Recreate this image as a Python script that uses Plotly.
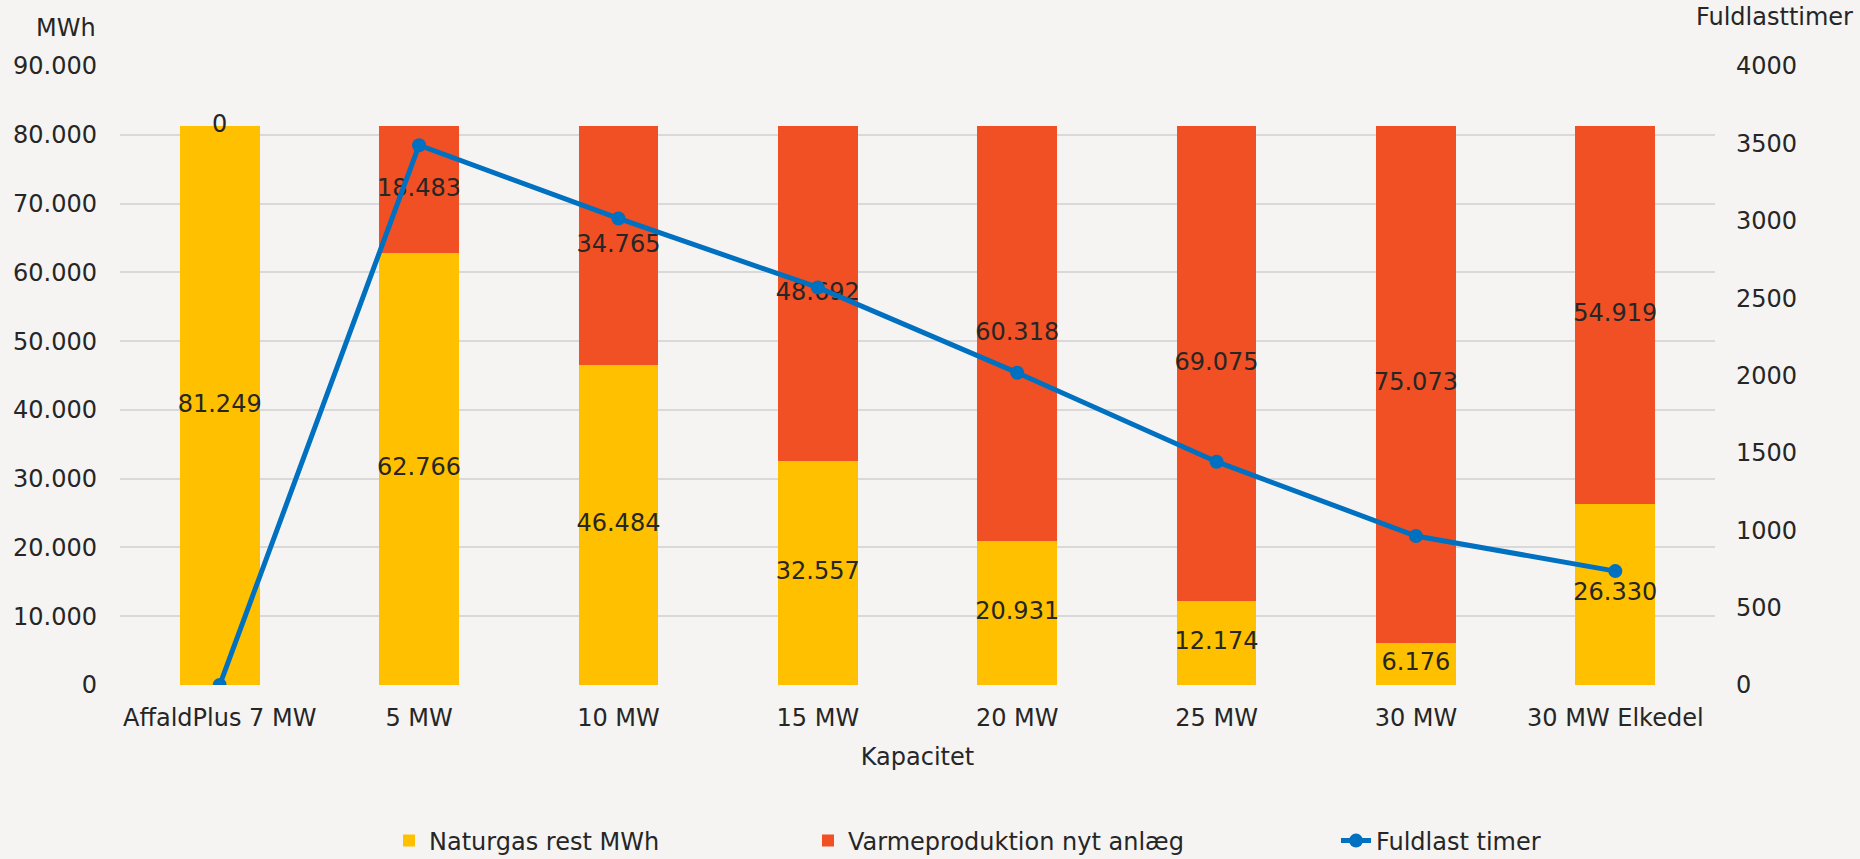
import plotly.graph_objects as go

categories = ["AffaldPlus 7 MW", "5 MW", "10 MW", "15 MW", "20 MW", "25 MW", "30 MW", "30 MW Elkedel"]
naturgas = [81249, 62766, 46484, 32557, 20931, 12174, 6176, 26330]
varme = [0, 18483, 34765, 48692, 60318, 69075, 75073, 54919]
fuldlast = [0, 3488, 3015, 2569, 2018, 1443, 963, 736]

FONT = "DejaVu Sans"
TXT = "#262626"
BG = "#F5F4F2"
FS = 24

def fmt(v):
    return f"{v:,}".replace(",", ".")

fig = go.Figure()
fig.add_trace(go.Bar(x=categories, y=naturgas, name="Naturgas rest MWh",
                     marker=dict(color="#FFC000", line=dict(width=0)), legend="legend"))
fig.add_trace(go.Bar(x=categories, y=varme, name="Varmeproduktion nyt anlæg",
                     marker=dict(color="#F05023", line=dict(width=0)), legend="legend2"))

# data labels at segment centres
mid_n = [v / 2 for v in naturgas]
mid_v = [n + v / 2 for n, v in zip(naturgas, varme)]
fig.add_trace(go.Scatter(x=categories + categories, y=mid_n + mid_v, mode="text",
                         text=[fmt(v) for v in naturgas] + [fmt(v) for v in varme],
                         textfont=dict(family=FONT, size=FS, color=TXT),
                         showlegend=False, hoverinfo="skip"))

fig.add_trace(go.Scatter(x=categories, y=fuldlast, name="Fuldlast timer", yaxis="y2",
                         mode="lines+markers", line=dict(color="#0070C0", width=5),
                         marker=dict(size=14, color="#0070C0"), legend="legend3"))

LEG_Y = (859 - 841) / 859
fig.update_layout(
    width=1860, height=859,
    paper_bgcolor=BG, plot_bgcolor=BG,
    barmode="stack", bargap=0.6,
    margin=dict(l=120, r=145, t=66, b=174, autoexpand=False),
    font=dict(family=FONT, size=FS, color=TXT),
    separators=",.",
    xaxis=dict(showgrid=False, ticks="", showline=False, tickfont=dict(size=FS, color=TXT),
               ticklabelstandoff=16, automargin=False,
               title=dict(text="Kapacitet", font=dict(size=FS, color=TXT), standoff=17)),
    yaxis=dict(range=[0, 90000], dtick=10000, tickformat=",d", showgrid=True,
               gridcolor="#D9D9D9", gridwidth=1.5, zeroline=False, ticks="", automargin=False,
               ticklabelstandoff=22, tickfont=dict(size=FS, color=TXT)),
    yaxis2=dict(range=[0, 4000], dtick=500, overlaying="y", side="right", showgrid=False,
                zeroline=False, ticks="", ticklabelstandoff=20, automargin=False,
                tickfont=dict(size=FS, color=TXT)),
    legend=dict(orientation="h", x=389 / 1860, y=LEG_Y, xref="container", yref="container",
                xanchor="left", yanchor="middle",
                bgcolor="rgba(0,0,0,0)", font=dict(size=FS, color=TXT)),
    legend2=dict(orientation="h", x=808 / 1860, y=LEG_Y, xref="container", yref="container",
                 xanchor="left", yanchor="middle",
                 bgcolor="rgba(0,0,0,0)", font=dict(size=FS, color=TXT)),
    legend3=dict(orientation="h", x=1336 / 1860, y=LEG_Y, xref="container", yref="container",
                 xanchor="left", yanchor="middle",
                 bgcolor="rgba(0,0,0,0)", font=dict(size=FS, color=TXT)),
    annotations=[
        dict(text="MWh", xref="paper", yref="paper", x=(98 - 120) / 1595, y=(685 - 28) / 619,
             xanchor="right", yanchor="middle", showarrow=False, font=dict(size=FS, color=TXT)),
        dict(text="Fuldlasttimer", xref="paper", yref="paper", x=(1855 - 120) / 1595, y=(685 - 17) / 619,
             xanchor="right", yanchor="middle", showarrow=False, font=dict(size=FS, color=TXT)),
    ],
)

fig.write_html("out.html")
